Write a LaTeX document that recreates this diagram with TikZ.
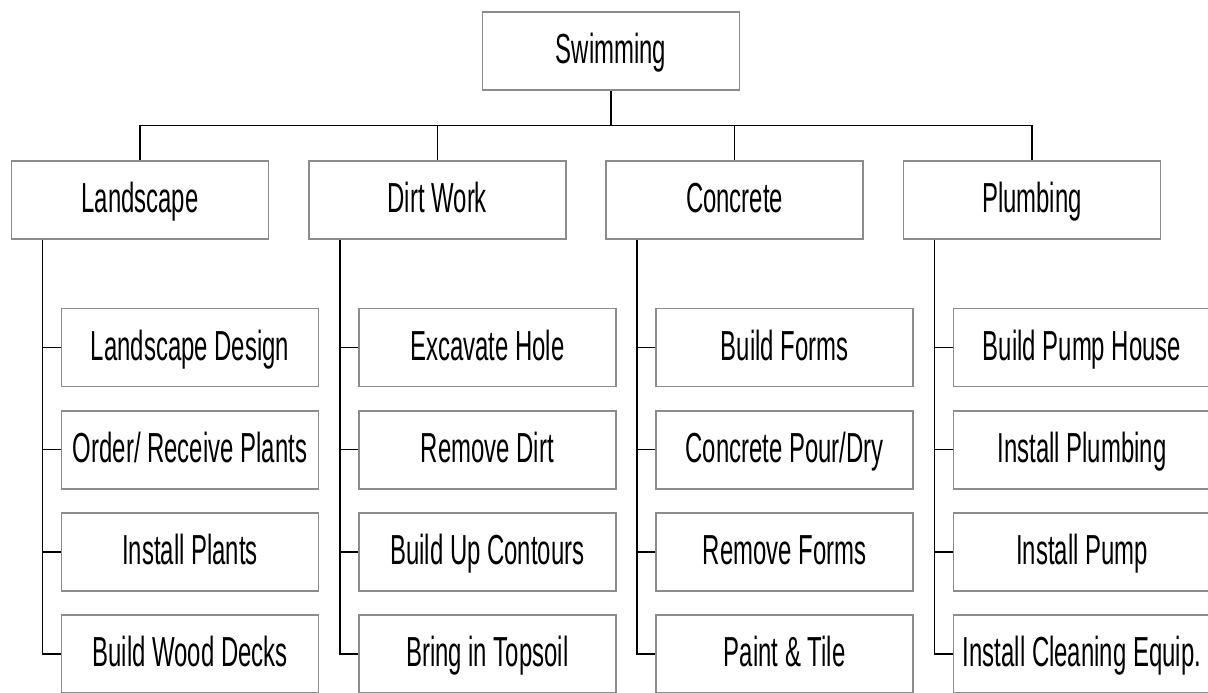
\documentclass[tikz,border=0pt]{standalone}
\usepackage{fontspec}
\setmainfont[FakeStretch=0.57]{Liberation Sans}
\begin{document}
\begin{tikzpicture}[x=1pt,y=-1pt,
  box/.style={draw=black!45, line width=1.6pt, fill=white, minimum width=257pt,
    minimum height=78pt, inner sep=0pt, text height=30pt, text depth=5pt,
    font=\fontsize{42}{50}\selectfont},
  link/.style={draw=black, line width=1.5pt}]
\useasboundingbox (0,0) rectangle (1208,693);

% root
\node[box] (root) at (611,51) {Swimming};
\coordinate (bus) at (611,125.7);

% first level
\node[box] (c1) at (140,199.8)   {Landscape};
\node[box] (c2) at (437.3,199.8) {Dirt Work};
\node[box] (c3) at (734.6,199.8) {Concrete};
\node[box] (c4) at (1032,199.8)  {Plumbing};

% tasks
\node[box] (a1) at (190,347.5) {Landscape Design};
\node[box] (a2) at (190,449.7) {Order/ Receive Plants};
\node[box] (a3) at (190,551.9) {Install Plants};
\node[box] (a4) at (190,654.1) {Build Wood Decks};

\node[box] (b1) at (487.3,347.5) {Excavate Hole};
\node[box] (b2) at (487.3,449.7) {Remove Dirt};
\node[box] (b3) at (487.3,551.9) {Build Up Contours};
\node[box] (b4) at (487.3,654.1) {Bring in Topsoil};

\node[box] (d1) at (784.6,347.5) {Build Forms};
\node[box] (d2) at (784.6,449.7) {Concrete Pour/Dry};
\node[box] (d3) at (784.6,551.9) {Remove Forms};
\node[box] (d4) at (784.6,654.1) {Paint \& Tile};

\node[box] (e1) at (1082,347.5) {Build Pump House};
\node[box] (e2) at (1082,449.7) {Install Plumbing};
\node[box] (e3) at (1082,551.9) {Install Pump};
\node[box] (e4) at (1082,654.1) {Install Cleaning Equip.};

% root to first level
\draw[link] (root.south) -- (bus);
\draw[link] (c1.north) |- (c4.north |- bus) -- (c4.north);
\draw[link] (c2.north) -- (c2.north |- bus);
\draw[link] (c3.north) -- (c3.north |- bus);

% spines with ticks
\foreach \p/\q in {c1/a, c2/b, c3/d, c4/e}{
  \coordinate (s\q) at ([xshift=-97.5pt]\p.south);
  \draw[link] (s\q) |- (\q4.west);
  \foreach \k in {1,2,3}{
    \draw[link] (\q\k.west) -- (\q\k.west -| s\q);
  }
}
\end{tikzpicture}
\end{document}
